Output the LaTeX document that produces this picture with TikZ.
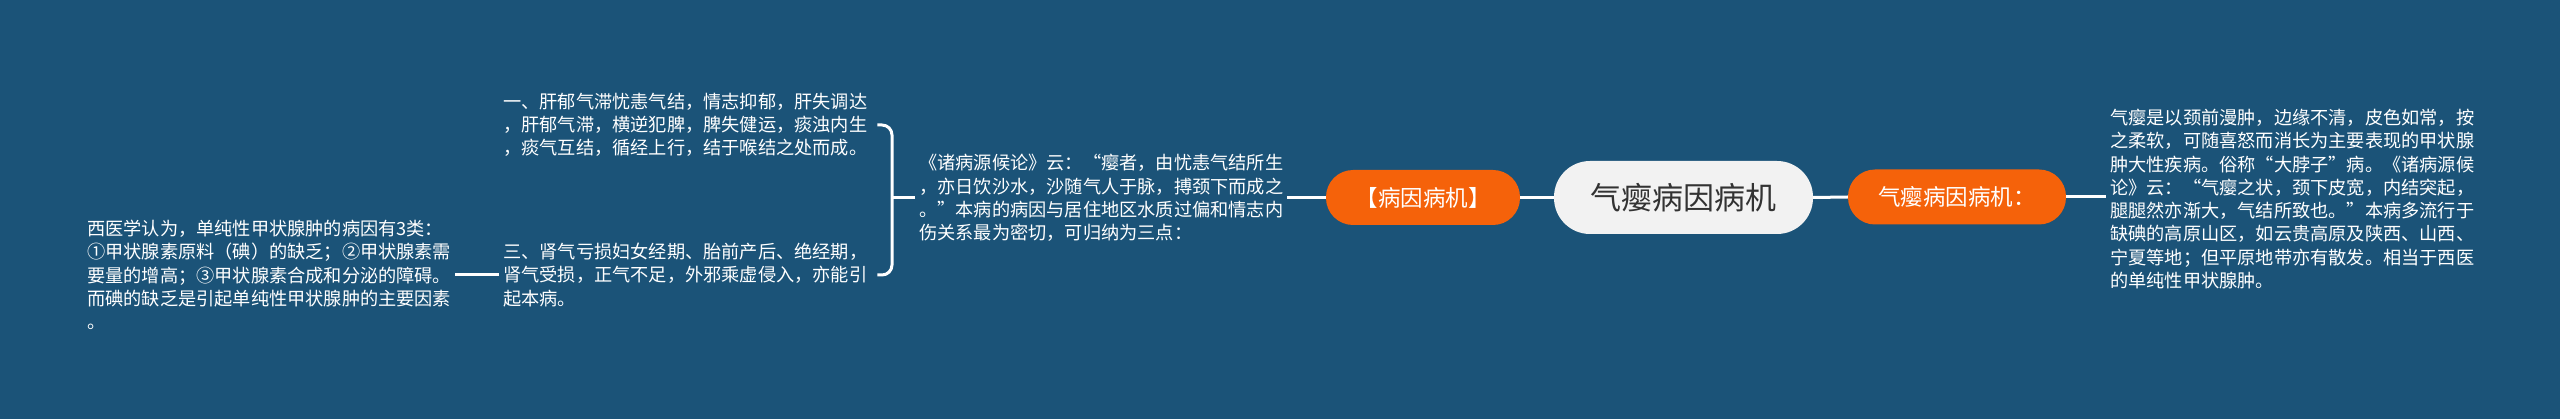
\documentclass[tikz,border=0pt]{standalone}
\usepackage{fontspec}
\setmainfont{Noto Sans CJK SC}
\definecolor{bg}{HTML}{1B5378}
\definecolor{org}{RGB}{245,98,10}
\definecolor{cnode}{HTML}{F2F2F2}
\definecolor{ctext}{HTML}{333333}
\begin{document}
\begin{tikzpicture}[x=1pt,y=-1pt,
  conn/.style={draw=white,line width=3pt},
  txt/.style={text=white,font=\fontsize{18.2}{23.3}\selectfont,align=left,text width=364pt,inner xsep=4pt,inner ysep=2pt},
  pill/.style={fill=org,text=white,rounded corners=27pt,font=\fontsize{22.5}{26}\selectfont,minimum height=55pt,inner sep=0pt},
  root/.style={fill=cnode,text=ctext,rounded corners=36pt,font=\fontsize{31}{34}\selectfont,minimum width=259pt,minimum height=73pt,inner sep=0pt}]
\useasboundingbox (0,0) rectangle (2560,419);
\fill[bg] (0,0) rectangle (2560,419);

\node[root] (root) at (1683.5,197.5) {气瘿病因病机};
\node[pill,minimum width=194pt] (L1) at (1423,197.5) {【病因病机】};
\node[pill,minimum width=218pt] (R1) at (1957,197) {气瘿病因病机：};

\node[txt,anchor=west] (R2) at (2106,199) {气瘿是以颈前漫肿，边缘不清，皮色如常，按\\
之柔软，可随喜怒而消长为主要表现的甲状腺\\
肿大性疾病。俗称“大脖子”病。《诸病源候\\
论》云：“气瘿之状，颈下皮宽，内结突起，\\
腿腿然亦渐大，气结所致也。”本病多流行于\\
缺碘的高原山区，如云贵高原及陕西、山西、\\
宁夏等地；但平原地带亦有散发。相当于西医\\
的单纯性甲状腺肿。};

\node[txt,anchor=west] (L2) at (915,198) {《诸病源候论》云：“瘿者，由忧恚气结所生\\
，亦日饮沙水，沙随气人于脉，搏颈下而成之\\
。”本病的病因与居住地区水质过偏和情志内\\
伤关系最为密切，可归纳为三点：};

\node[txt,anchor=west,text width=370pt] (L3a) at (499,125) {一、肝郁气滞忧恚气结，情志抑郁，肝失调达\\
，肝郁气滞，横逆犯脾，脾失健运，痰浊内生\\
，痰气互结，循经上行，结于喉结之处而成。};

\node[txt,anchor=west,text width=370pt] (L3b) at (499,275) {三、肾气亏损妇女经期、胎前产后、绝经期，\\
肾气受损，正气不足，外邪乘虚侵入，亦能引\\
起本病。};

\node[txt,anchor=west] (L4) at (83,275) {西医学认为，单纯性甲状腺肿的病因有3类：\\
①甲状腺素原料（碘）的缺乏；②甲状腺素需\\
要量的增高；③甲状腺素合成和分泌的障碍。\\
而碘的缺乏是引起单纯性甲状腺肿的主要因素\\
。};

\coordinate (bx) at (892,198);
\draw[conn] (root.west) -- (L1.east);
\draw[conn] (root.east) -- (R1.west);
\draw[conn] (R1.east) -- (R1.east -| R2.west);
\draw[conn] (L1.west) -- (L1.west -| L2.east);
\draw[conn] (L2.west) -- (bx);
\draw[conn,rounded corners=10pt] (L3a.east) -| (bx) |- (L3b.east);
\draw[conn] (L3b.west) -- (L4.east |- L3b.west);
\end{tikzpicture}
\end{document}
